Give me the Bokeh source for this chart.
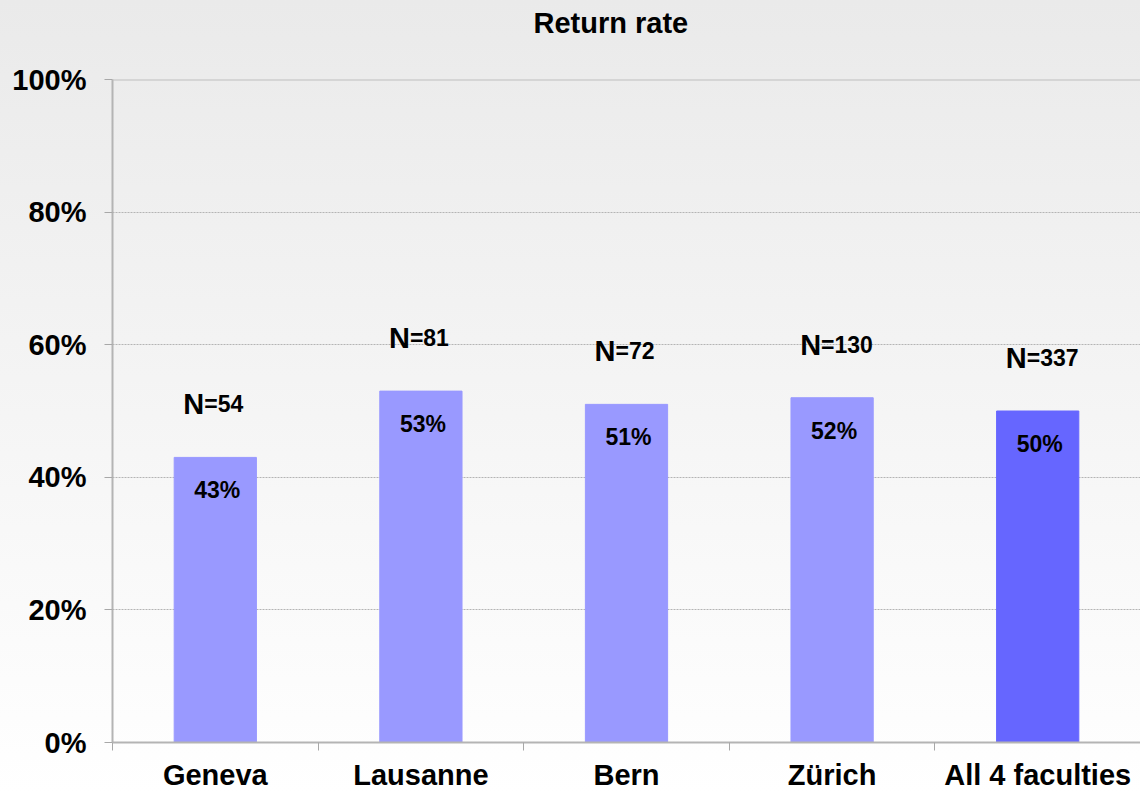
from bokeh.plotting import figure
from bokeh.models import ColumnDataSource, Range1d, FixedTicker, NumeralTickFormatter, Span, Title
from bokeh.core.properties import value
from bokeh.embed import file_html
from bokeh.resources import INLINE

categories = ["Geneva", "Lausanne", "Bern", "Zürich", "All 4 faculties"]
return_rate = [43, 53, 51, 52, 50]
n_counts = [54, 81, 72, 130, 337]

bar_colors = ["#9999FF", "#9999FF", "#9999FF", "#9999FF", "#6666FF"]
FONT = "Liberation Sans"

xs = [i + 0.5 for i in range(len(categories))]
src = ColumnDataSource(dict(
    x=xs,
    top=[v / 100 for v in return_rate],
    color=bar_colors,
    label=[f"{v}%" for v in return_rate],
    n_letter=["N"] * len(n_counts),
    n_rest=[f"={n}" for n in n_counts],
))

p = figure(width=1140, height=793, output_backend="svg", toolbar_location=None,
           x_range=Range1d(0, len(categories)), y_range=Range1d(0, 1),
           min_border_left=112, min_border_right=0, min_border_top=79, min_border_bottom=49)

p.border_fill_alpha = 0
p.background_fill_alpha = 0
p.outline_line_color = None

p.title = None
# spacer between plot area and title
p.add_layout(Title(text="\u00a0", text_font=FONT, text_font_size="35px", standoff=0), "above")
p.add_layout(Title(text="Return rate", text_font=FONT, text_font_size="29px",
                   text_font_style="bold", text_color="#000000",
                   align="left", offset=421, standoff=0), "above")

p.vbar(x="x", top="top", bottom=0, width=0.4, color="color", source=src)

p.text(x="x", y="top", text="label", source=src, text_align="center",
       text_baseline="alphabetic", x_offset=2, y_offset=33,
       text_font=value(FONT), text_font_size="23px", text_font_style="bold", text_color="#000000")
p.text(x="x", y="top", text="n_letter", source=src, text_align="right",
       text_baseline="alphabetic", x_offset=-11, y_offset=-53,
       text_font=value(FONT), text_font_size="29px", text_font_style="bold", text_color="#000000")
p.text(x="x", y="top", text="n_rest", source=src, text_align="left",
       text_baseline="alphabetic", x_offset=-11, y_offset=-53,
       text_font=value(FONT), text_font_size="23px", text_font_style="bold", text_color="#000000")

# grid
p.xgrid.grid_line_color = None
p.ygrid.ticker = FixedTicker(ticks=[0.2, 0.4, 0.6, 0.8])
p.ygrid.grid_line_color = "#B4B4B4"
p.ygrid.grid_line_dash = "2 1"
p.ygrid.grid_line_width = 1
p.add_layout(Span(location=1, dimension="width", line_color="#BDBDBD", line_width=2))

# y axis
p.yaxis.ticker = FixedTicker(ticks=[0, 0.2, 0.4, 0.6, 0.8, 1.0], minor_ticks=[])
p.yaxis.formatter = NumeralTickFormatter(format="0%")
p.yaxis.axis_line_color = "#B4B4B4"
p.yaxis.axis_line_width = 2
p.yaxis.major_tick_line_color = "#A8A8A8"
p.yaxis.major_tick_out = 8
p.yaxis.major_tick_in = 0
p.yaxis.major_label_standoff = 18
p.yaxis.major_label_text_font = FONT
p.yaxis.major_label_text_font_size = "29px"
p.yaxis.major_label_text_font_style = "bold"
p.yaxis.major_label_text_color = "#000000"

# x axis
p.xaxis.ticker = FixedTicker(ticks=xs, minor_ticks=list(range(len(categories) + 1)))
p.xaxis.major_label_overrides = {x: c for x, c in zip(xs, categories)}
p.xaxis.axis_line_color = "#B4B4B4"
p.xaxis.axis_line_width = 2
p.xaxis.major_tick_line_color = None
p.xaxis.major_tick_out = 0
p.xaxis.major_tick_in = 0
p.xaxis.minor_tick_line_color = "#A8A8A8"
p.xaxis.minor_tick_out = 8
p.xaxis.minor_tick_in = 0
p.xaxis.major_label_standoff = 8
p.xaxis.major_label_text_font = FONT
p.xaxis.major_label_text_font_size = "29px"
p.xaxis.major_label_text_font_style = "bold"
p.xaxis.major_label_text_color = "#000000"

html = file_html(p, INLINE)
html = html.replace("<head>", "<head><style>html,body{background:linear-gradient(#EAEAEA,#FFFFFF) fixed;min-height:100%;}</style>", 1)
open("out.html", "w").write(html)
